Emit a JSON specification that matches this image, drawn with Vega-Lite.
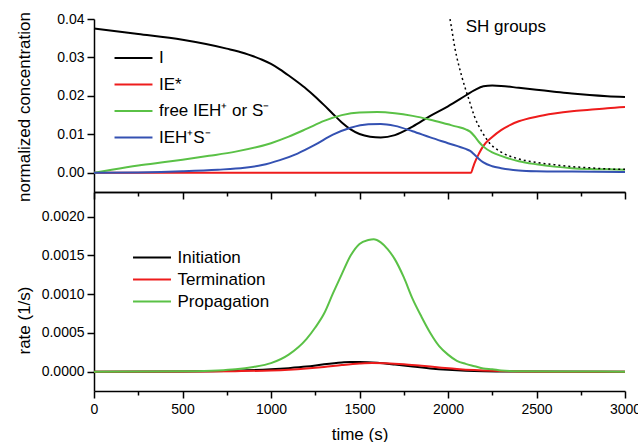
{
  "$schema": "https://vega.github.io/schema/vega-lite/v6.json",
  "autosize": {"type": "pad"},
  "padding": {"left": 14, "top": 11, "right": 0, "bottom": 0},
  "background": "white",
  "config": {
    "view": {"stroke": null},
    "font": "Liberation Sans",
    "axis": {
      "domainColor": "black", "domainWidth": 1.5,
      "tickColor": "black", "tickWidth": 1.5,
      "labelColor": "black", "labelFont": "Liberation Sans", "labelFontSize": 14,
      "labelFlush": false, "labelOverlap": false,
      "titleFont": "Liberation Sans", "titleFontSize": 17, "titleFontWeight": "normal", "titleColor": "black",
      "grid": false
    },
    "legend": {
      "orient": "none", "title": null, "padding": 0,
      "symbolType": "M-3,0H3", "symbolSize": 160, "symbolStrokeWidth": 2,
      "labelFont": "Liberation Sans", "labelFontSize": 17, "labelColor": "black",
      "labelOffset": 17
    }
  },
  "datasets": {
    "conc": [
      {"t": 0, "v": 0.0375, "s": "I"}, {"t": 250, "v": 0.0361, "s": "I"}, {"t": 500, "v": 0.0346, "s": "I"},
      {"t": 750, "v": 0.0323, "s": "I"}, {"t": 850, "v": 0.0311, "s": "I"}, {"t": 900, "v": 0.0303, "s": "I"},
      {"t": 950, "v": 0.0294, "s": "I"}, {"t": 1000, "v": 0.0283, "s": "I"}, {"t": 1050, "v": 0.0269, "s": "I"},
      {"t": 1100, "v": 0.0253, "s": "I"}, {"t": 1150, "v": 0.0236, "s": "I"}, {"t": 1200, "v": 0.0218, "s": "I"},
      {"t": 1250, "v": 0.0198, "s": "I"}, {"t": 1300, "v": 0.0176, "s": "I"}, {"t": 1350, "v": 0.0153, "s": "I"},
      {"t": 1400, "v": 0.0131, "s": "I"}, {"t": 1450, "v": 0.0113, "s": "I"}, {"t": 1500, "v": 0.0101, "s": "I"},
      {"t": 1560, "v": 0.0094, "s": "I"}, {"t": 1620, "v": 0.0092, "s": "I"}, {"t": 1700, "v": 0.0098, "s": "I"},
      {"t": 1800, "v": 0.0120, "s": "I"}, {"t": 1900, "v": 0.0148, "s": "I"}, {"t": 2000, "v": 0.0173, "s": "I"},
      {"t": 2100, "v": 0.0201, "s": "I"}, {"t": 2150, "v": 0.0215, "s": "I"}, {"t": 2200, "v": 0.0225, "s": "I"},
      {"t": 2250, "v": 0.0227, "s": "I"}, {"t": 2300, "v": 0.0226, "s": "I"}, {"t": 2400, "v": 0.0221, "s": "I"},
      {"t": 2500, "v": 0.0216, "s": "I"}, {"t": 2600, "v": 0.0211, "s": "I"}, {"t": 2700, "v": 0.0206, "s": "I"},
      {"t": 2800, "v": 0.0202, "s": "I"}, {"t": 2900, "v": 0.0199, "s": "I"}, {"t": 3000, "v": 0.0197, "s": "I"},

      {"t": 0, "v": 0, "s": "IE*"}, {"t": 2130, "v": 0, "s": "IE*"}, {"t": 2140, "v": 0.0012, "s": "IE*"},
      {"t": 2150, "v": 0.0025, "s": "IE*"}, {"t": 2175, "v": 0.0050, "s": "IE*"}, {"t": 2200, "v": 0.0070, "s": "IE*"},
      {"t": 2250, "v": 0.0093, "s": "IE*"}, {"t": 2300, "v": 0.0111, "s": "IE*"}, {"t": 2350, "v": 0.0124, "s": "IE*"},
      {"t": 2400, "v": 0.0134, "s": "IE*"}, {"t": 2500, "v": 0.0146, "s": "IE*"}, {"t": 2600, "v": 0.0154, "s": "IE*"},
      {"t": 2700, "v": 0.0160, "s": "IE*"}, {"t": 2800, "v": 0.0164, "s": "IE*"}, {"t": 2900, "v": 0.0168, "s": "IE*"},
      {"t": 3000, "v": 0.0171, "s": "IE*"},

      {"t": 0, "v": 0, "s": "free IEH⁺ or S⁻"}, {"t": 100, "v": 0.0008, "s": "free IEH⁺ or S⁻"},
      {"t": 250, "v": 0.0019, "s": "free IEH⁺ or S⁻"}, {"t": 400, "v": 0.0028, "s": "free IEH⁺ or S⁻"},
      {"t": 500, "v": 0.0034, "s": "free IEH⁺ or S⁻"}, {"t": 650, "v": 0.0044, "s": "free IEH⁺ or S⁻"},
      {"t": 800, "v": 0.0055, "s": "free IEH⁺ or S⁻"}, {"t": 1000, "v": 0.0077, "s": "free IEH⁺ or S⁻"},
      {"t": 1100, "v": 0.0094, "s": "free IEH⁺ or S⁻"}, {"t": 1200, "v": 0.0114, "s": "free IEH⁺ or S⁻"},
      {"t": 1300, "v": 0.0135, "s": "free IEH⁺ or S⁻"}, {"t": 1400, "v": 0.0150, "s": "free IEH⁺ or S⁻"},
      {"t": 1500, "v": 0.0157, "s": "free IEH⁺ or S⁻"}, {"t": 1600, "v": 0.0158, "s": "free IEH⁺ or S⁻"},
      {"t": 1700, "v": 0.0155, "s": "free IEH⁺ or S⁻"}, {"t": 1800, "v": 0.0148, "s": "free IEH⁺ or S⁻"},
      {"t": 1900, "v": 0.0138, "s": "free IEH⁺ or S⁻"}, {"t": 2000, "v": 0.0126, "s": "free IEH⁺ or S⁻"},
      {"t": 2050, "v": 0.0120, "s": "free IEH⁺ or S⁻"}, {"t": 2100, "v": 0.0113, "s": "free IEH⁺ or S⁻"},
      {"t": 2125, "v": 0.0107, "s": "free IEH⁺ or S⁻"}, {"t": 2150, "v": 0.0095, "s": "free IEH⁺ or S⁻"},
      {"t": 2175, "v": 0.0080, "s": "free IEH⁺ or S⁻"}, {"t": 2200, "v": 0.0068, "s": "free IEH⁺ or S⁻"},
      {"t": 2250, "v": 0.0053, "s": "free IEH⁺ or S⁻"}, {"t": 2300, "v": 0.0044, "s": "free IEH⁺ or S⁻"},
      {"t": 2400, "v": 0.0030, "s": "free IEH⁺ or S⁻"}, {"t": 2500, "v": 0.0022, "s": "free IEH⁺ or S⁻"},
      {"t": 2600, "v": 0.0016, "s": "free IEH⁺ or S⁻"}, {"t": 2700, "v": 0.0012, "s": "free IEH⁺ or S⁻"},
      {"t": 2800, "v": 0.0010, "s": "free IEH⁺ or S⁻"}, {"t": 2900, "v": 0.0009, "s": "free IEH⁺ or S⁻"},
      {"t": 3000, "v": 0.0008, "s": "free IEH⁺ or S⁻"},

      {"t": 0, "v": 0, "s": "IEH⁺S⁻"}, {"t": 250, "v": 0.0001, "s": "IEH⁺S⁻"}, {"t": 500, "v": 0.0004, "s": "IEH⁺S⁻"},
      {"t": 700, "v": 0.0008, "s": "IEH⁺S⁻"}, {"t": 850, "v": 0.0013, "s": "IEH⁺S⁻"}, {"t": 950, "v": 0.0020, "s": "IEH⁺S⁻"},
      {"t": 1050, "v": 0.0033, "s": "IEH⁺S⁻"}, {"t": 1150, "v": 0.0050, "s": "IEH⁺S⁻"}, {"t": 1250, "v": 0.0073, "s": "IEH⁺S⁻"},
      {"t": 1350, "v": 0.0099, "s": "IEH⁺S⁻"}, {"t": 1450, "v": 0.0117, "s": "IEH⁺S⁻"}, {"t": 1550, "v": 0.0126, "s": "IEH⁺S⁻"},
      {"t": 1620, "v": 0.0127, "s": "IEH⁺S⁻"}, {"t": 1700, "v": 0.0122, "s": "IEH⁺S⁻"}, {"t": 1800, "v": 0.0108, "s": "IEH⁺S⁻"},
      {"t": 1900, "v": 0.0092, "s": "IEH⁺S⁻"}, {"t": 2000, "v": 0.0077, "s": "IEH⁺S⁻"}, {"t": 2100, "v": 0.0062, "s": "IEH⁺S⁻"},
      {"t": 2125, "v": 0.0057, "s": "IEH⁺S⁻"}, {"t": 2150, "v": 0.0047, "s": "IEH⁺S⁻"}, {"t": 2175, "v": 0.0036, "s": "IEH⁺S⁻"},
      {"t": 2200, "v": 0.0027, "s": "IEH⁺S⁻"}, {"t": 2250, "v": 0.0017, "s": "IEH⁺S⁻"}, {"t": 2300, "v": 0.0012, "s": "IEH⁺S⁻"},
      {"t": 2400, "v": 0.0006, "s": "IEH⁺S⁻"}, {"t": 2500, "v": 0.0004, "s": "IEH⁺S⁻"}, {"t": 2700, "v": 0.0003, "s": "IEH⁺S⁻"},
      {"t": 3000, "v": 0.0002, "s": "IEH⁺S⁻"}
    ],
    "sh": [
      {"t": 2000, "v": 0.0425}, {"t": 2010, "v": 0.0403}, {"t": 2040, "v": 0.0322}, {"t": 2080, "v": 0.0247},
      {"t": 2120, "v": 0.0188}, {"t": 2150, "v": 0.0146}, {"t": 2190, "v": 0.0108}, {"t": 2230, "v": 0.0080},
      {"t": 2300, "v": 0.0054}, {"t": 2400, "v": 0.0036}, {"t": 2500, "v": 0.0027}, {"t": 2600, "v": 0.0021},
      {"t": 2700, "v": 0.0016}, {"t": 2800, "v": 0.0013}, {"t": 2900, "v": 0.0010}, {"t": 3000, "v": 0.0009}
    ],
    "note": [
      {"t": 2100, "v": 0.0366, "label": "SH groups"}
    ],
    "rate": [
      {"t": 0, "v": 0, "s": "Initiation"}, {"t": 500, "v": 0.000003, "s": "Initiation"}, {"t": 800, "v": 0.000012, "s": "Initiation"},
      {"t": 1000, "v": 0.00003, "s": "Initiation"}, {"t": 1100, "v": 0.000045, "s": "Initiation"}, {"t": 1200, "v": 0.000065, "s": "Initiation"},
      {"t": 1300, "v": 0.000095, "s": "Initiation"}, {"t": 1400, "v": 0.000118, "s": "Initiation"}, {"t": 1450, "v": 0.000125, "s": "Initiation"},
      {"t": 1500, "v": 0.000125, "s": "Initiation"}, {"t": 1600, "v": 0.000115, "s": "Initiation"}, {"t": 1700, "v": 0.000092, "s": "Initiation"},
      {"t": 1800, "v": 0.000065, "s": "Initiation"}, {"t": 1900, "v": 0.000042, "s": "Initiation"}, {"t": 2000, "v": 0.000025, "s": "Initiation"},
      {"t": 2100, "v": 0.000013, "s": "Initiation"}, {"t": 2200, "v": 0.000006, "s": "Initiation"}, {"t": 2400, "v": 0.000001, "s": "Initiation"},
      {"t": 3000, "v": 0, "s": "Initiation"},

      {"t": 0, "v": 0, "s": "Termination"}, {"t": 600, "v": 0.000002, "s": "Termination"}, {"t": 800, "v": 0.000006, "s": "Termination"},
      {"t": 1000, "v": 0.000015, "s": "Termination"}, {"t": 1100, "v": 0.000025, "s": "Termination"}, {"t": 1200, "v": 0.00004, "s": "Termination"},
      {"t": 1300, "v": 0.00006, "s": "Termination"}, {"t": 1400, "v": 0.000085, "s": "Termination"}, {"t": 1500, "v": 0.000105, "s": "Termination"},
      {"t": 1570, "v": 0.000112, "s": "Termination"}, {"t": 1650, "v": 0.000108, "s": "Termination"}, {"t": 1750, "v": 0.000095, "s": "Termination"},
      {"t": 1850, "v": 0.000075, "s": "Termination"}, {"t": 1950, "v": 0.000055, "s": "Termination"}, {"t": 2050, "v": 0.000035, "s": "Termination"},
      {"t": 2150, "v": 0.00002, "s": "Termination"}, {"t": 2250, "v": 0.00001, "s": "Termination"}, {"t": 2400, "v": 0.000003, "s": "Termination"},
      {"t": 2600, "v": 0, "s": "Termination"}, {"t": 3000, "v": 0, "s": "Termination"},

      {"t": 0, "v": 0, "s": "Propagation"}, {"t": 300, "v": 0.000001, "s": "Propagation"}, {"t": 500, "v": 0.000004, "s": "Propagation"},
      {"t": 700, "v": 0.000015, "s": "Propagation"}, {"t": 800, "v": 0.00003, "s": "Propagation"}, {"t": 900, "v": 0.00006, "s": "Propagation"},
      {"t": 1000, "v": 0.00011, "s": "Propagation"}, {"t": 1100, "v": 0.00022, "s": "Propagation"}, {"t": 1200, "v": 0.00042, "s": "Propagation"},
      {"t": 1250, "v": 0.00057, "s": "Propagation"}, {"t": 1300, "v": 0.00075, "s": "Propagation"}, {"t": 1350, "v": 0.00101, "s": "Propagation"},
      {"t": 1400, "v": 0.00126, "s": "Propagation"}, {"t": 1450, "v": 0.0015, "s": "Propagation"}, {"t": 1500, "v": 0.00165, "s": "Propagation"},
      {"t": 1550, "v": 0.0017, "s": "Propagation"}, {"t": 1580, "v": 0.00171, "s": "Propagation"}, {"t": 1620, "v": 0.00167, "s": "Propagation"},
      {"t": 1660, "v": 0.00158, "s": "Propagation"}, {"t": 1700, "v": 0.00145, "s": "Propagation"}, {"t": 1750, "v": 0.00122, "s": "Propagation"},
      {"t": 1800, "v": 0.00094, "s": "Propagation"}, {"t": 1850, "v": 0.00071, "s": "Propagation"}, {"t": 1900, "v": 0.0005, "s": "Propagation"},
      {"t": 1950, "v": 0.00033, "s": "Propagation"}, {"t": 2000, "v": 0.00022, "s": "Propagation"}, {"t": 2050, "v": 0.00014, "s": "Propagation"},
      {"t": 2100, "v": 0.0001, "s": "Propagation"}, {"t": 2150, "v": 0.00007, "s": "Propagation"}, {"t": 2200, "v": 0.00004, "s": "Propagation"},
      {"t": 2250, "v": 0.00003, "s": "Propagation"}, {"t": 2300, "v": 0.000015, "s": "Propagation"}, {"t": 2400, "v": 0.000005, "s": "Propagation"},
      {"t": 2600, "v": 0.000001, "s": "Propagation"}, {"t": 3000, "v": 0, "s": "Propagation"}
    ]
  },
  "spacing": 0,
  "bounds": "flush",
  "resolve": {"scale": {"color": "independent"}},
  "vconcat": [
    {
      "width": 531,
      "height": 173,
      "layer": [
        {
          "data": {"name": "conc"},
          "mark": {"type": "line", "strokeWidth": 2, "interpolate": "monotone"},
          "encoding": {
            "x": {
              "field": "t", "type": "quantitative",
              "scale": {"domain": [0, 3000], "nice": false},
              "axis": {"orient": "bottom", "ticks": false, "labels": false, "title": null}
            },
            "y": {
              "field": "v", "type": "quantitative",
              "scale": {"domain": [-0.005, 0.04], "nice": false, "zero": false},
              "axis": {
                "values": [0, 0.005, 0.01, 0.015, 0.02, 0.025, 0.03, 0.035, 0.04],
                "format": ".2f",
                "labelExpr": "abs(datum.value*100 - round(datum.value*100)) < 0.001 ? datum.label : ''",
                "tickSize": {"condition": {"test": "abs(datum.value*100 - round(datum.value*100)) < 0.001", "value": 7}, "value": 4},
                "labelPadding": 3,
                "title": "normalized concentration",
                "titleX": -65, "titleY": 87.5, "titleBaseline": "alphabetic", "titleAlign": "center", "titleAngle": -90
              }
            },
            "color": {
              "field": "s", "type": "nominal",
              "scale": {"domain": ["I", "IE*", "free IEH⁺ or S⁻", "IEH⁺S⁻"], "range": ["#000000", "#ee1c1c", "#5ac146", "#3451b2"]},
              "legend": {"legendX": 31, "legendY": 30.5, "rowPadding": 8.5}
            }
          }
        },
        {
          "data": {"name": "sh"},
          "mark": {"type": "line", "color": "black", "strokeWidth": 1.5, "strokeDash": [2, 3], "clip": true, "interpolate": "monotone"},
          "encoding": {
            "x": {"field": "t", "type": "quantitative"},
            "y": {"field": "v", "type": "quantitative"}
          }
        },
        {
          "data": {"name": "note"},
          "mark": {"type": "text", "align": "left", "baseline": "alphabetic", "fontSize": 17, "font": "Liberation Sans", "color": "black"},
          "encoding": {
            "x": {"field": "t", "type": "quantitative"},
            "y": {"field": "v", "type": "quantitative"},
            "text": {"field": "label"}
          }
        }
      ]
    },
    {
      "width": 531,
      "height": 199,
      "resolve": {"axis": {"x": "independent"}},
      "layer": [
        {
          "data": {"name": "rate"},
          "mark": {"type": "line", "strokeWidth": 2, "interpolate": "monotone"},
          "encoding": {
            "x": {
              "field": "t", "type": "quantitative",
              "scale": {"domain": [0, 3000], "nice": false},
              "axis": {
                "orient": "bottom",
                "values": [0, 250, 500, 750, 1000, 1250, 1500, 1750, 2000, 2250, 2500, 2750, 3000],
                "format": "d",
                "labelExpr": "datum.value % 500 === 0 ? datum.label : ''",
                "tickSize": {"condition": {"test": "datum.value % 500 === 0", "value": 7}, "value": 4},
                "labelPadding": 4,
                "title": "time (s)",
                "titleY": 48, "titleBaseline": "alphabetic"
              }
            },
            "y": {
              "field": "v", "type": "quantitative",
              "scale": {"domain": [-0.00025, 0.00232], "nice": false, "zero": false},
              "axis": {
                "values": [0, 0.00025, 0.0005, 0.00075, 0.001, 0.00125, 0.0015, 0.00175, 0.002, 0.00225],
                "format": ".4f",
                "labelExpr": "abs(datum.value*2000 - round(datum.value*2000)) < 0.001 ? datum.label : ''",
                "tickSize": {"condition": {"test": "abs(datum.value*2000 - round(datum.value*2000)) < 0.001", "value": 7}, "value": 4},
                "labelPadding": 3,
                "title": "rate (1/s)",
                "titleX": -65, "titleY": 128, "titleBaseline": "alphabetic", "titleAlign": "center", "titleAngle": -90
              }
            },
            "color": {
              "field": "s", "type": "nominal",
              "scale": {"domain": ["Initiation", "Termination", "Propagation"], "range": ["#000000", "#ee1c1c", "#5ac146"]},
              "legend": {"legendX": 49.5, "legendY": 57, "rowPadding": 4}
            }
          }
        },
        {
          "data": {"name": "rate"},
          "mark": {"type": "line", "opacity": 0},
          "encoding": {
            "x": {
              "field": "t", "type": "quantitative",
              "axis": {
                "orient": "top",
                "values": [0, 250, 500, 750, 1000, 1250, 1500, 1750, 2000, 2250, 2500, 2750, 3000],
                "labels": false,
                "title": null,
                "tickSize": {"condition": {"test": "datum.value % 500 === 0", "value": -7}, "value": -4}
              }
            },
            "y": {"field": "v", "type": "quantitative"},
            "detail": {"field": "s"}
          }
        }
      ]
    }
  ]
}
